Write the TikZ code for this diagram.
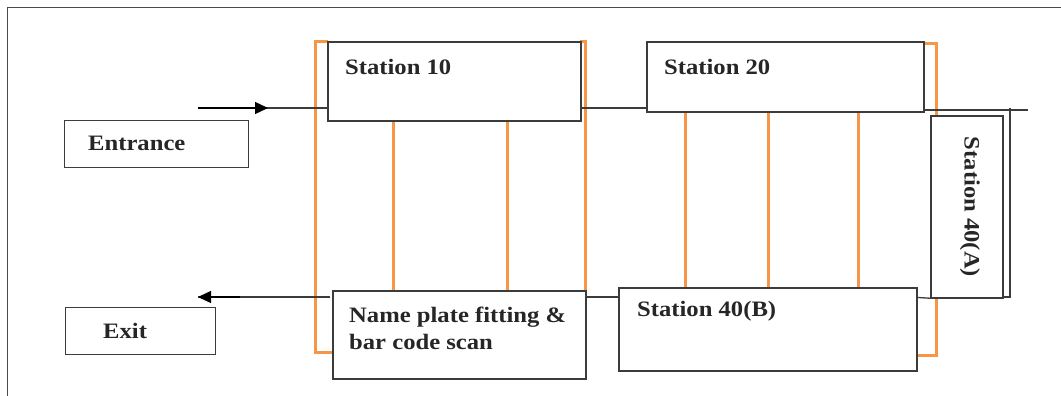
\documentclass[tikz,border=0pt]{standalone}
\usepackage{fontspec}
\setmainfont{Liberation Serif}[FakeStretch=1.12]
\usetikzlibrary{arrows.meta,calc,decorations.markings}
\definecolor{org}{HTML}{F79646}
\definecolor{edge}{HTML}{3C3C3C}
\definecolor{framec}{HTML}{4A4A4A}
\begin{document}
\begin{tikzpicture}[x=1pt,y=-1pt,
  box/.style={draw=edge, line width=1.3pt, fill=white, inner sep=0pt, anchor=north west},
  lbl/.style={font=\fontsize{22}{27}\selectfont\bfseries, inner sep=0pt, align=left, text=black!85},
  orgline/.style={draw=org, line width=3pt},
  wire/.style={draw=edge, line width=1.3pt},
  tip/.style={-{Triangle[length=13pt,width=12pt]}},
]
\useasboundingbox (0,0) rectangle (1061,396);
% outer frame
\draw[framec, line width=1pt] (1061,8) -- (7,8) -- (7,396);

% orange frames (behind the boxes)
\draw[org!80!brown, line width=1.6pt] (328,42) -- (393,42);
\draw[orgline] (328,42) -- (315,42) -- (315,352) -- (333,352);
\draw[orgline] (580,42) -- (585,42) -- (585,354);
\draw[org!80!brown, line width=1.6pt] (685,42) -- (770,42);
\draw[orgline] (923,44) -- (936,44) -- (936,355) -- (916,355);

% free ends of connectors
\coordinate (ein) at (198,108);
\coordinate (eout) at (198,297);
\coordinate (rend) at (1028,110);
\coordinate (dtop) at (1010,108);
\coordinate (dbot) at (1010,297);

% boxes
\node[box, minimum width=184pt, minimum height=47pt] (entr) at (64,120) {};
\node[box, minimum width=150pt, minimum height=47pt] (exit) at (65,307) {};

\draw[wire] (ein) -- (0,108 -| 330,0);
\draw[wire] (330,297) -- (eout);

\node[box, minimum width=252pt, minimum height=78pt] (s10) at (328,42) {};
\node[box, minimum width=276pt, minimum height=69pt] (s20) at (647,42) {};

\draw[wire] (s10.east |- 0,108) -- (s20.west |- 0,108);
\draw[wire] (s20.east |- 0,110) -- (rend);
\draw[wire] (dtop) -- (dbot) -- (1000,297);

\node[box, minimum width=71pt, minimum height=181pt] (s40a) at (931,116) {};
\draw[wire] (s40a.south west) -- (910,297);
\node[box, minimum width=297pt, minimum height=82pt] (s40b) at (619,288) {};
\draw[wire] (s40b.west |- 0,297) -- (580,297);
\node[box, minimum width=252pt, minimum height=87pt] (np) at (333,291) {};

% arrows
\draw[tip, draw=black, line width=1.3pt] (ein) -- (268,108);
\draw[tip, draw=black, line width=1.3pt] (240,297) -- (eout);

% orange verticals between stations
\foreach \xx in {393,507}
  \draw[orgline] (s10.south -| \xx,0) -- (np.north -| \xx,0);
\foreach \xx in {685,768,858}
  \draw[orgline] (s20.south -| \xx,0) -- (s40b.north -| \xx,0);

% redraw box borders on top
\foreach \n in {s10,s20,s40a,s40b,np}
  \draw[edge, line width=1.3pt] (\n.north west) rectangle (\n.south east);

% labels
\node[lbl, anchor=west] (tentr) at (88,143) {Entrance};
\node[lbl, anchor=west] (texit) at (103,331) {Exit};
\node[lbl, anchor=west] (ts10) at (345,67) {Station 10};
\node[lbl, anchor=west] (ts20) at (664,67) {Station 20};
\node[lbl, anchor=west] (ts40b) at (637,311) {Station 40(B)};
\node[lbl, rotate=-90] (ts40a) at (970,207) {Station 40(A)};
\node[lbl, anchor=north west] (tnp) at (349,307) {Name plate fitting \&\\bar code scan};
\end{tikzpicture}
\end{document}
